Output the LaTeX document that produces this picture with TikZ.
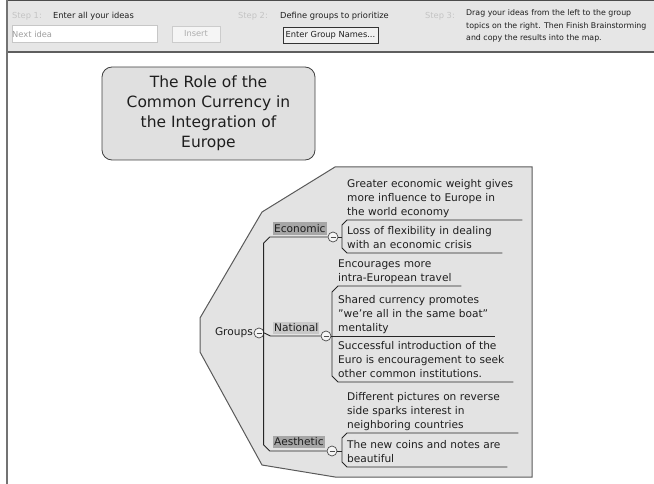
\documentclass[tikz,border=0pt]{standalone}
\usepackage{fontspec}
\setmainfont{DejaVu Sans}
\usetikzlibrary{positioning, calc}
\definecolor{barF}{HTML}{E6E6E6}
\definecolor{barS}{HTML}{5E5E5E}
\definecolor{mapF}{HTML}{E3E3E3}
\definecolor{mapS}{HTML}{5A5A5A}
\definecolor{stepGray}{HTML}{C4C4C4}
\definecolor{hlDark}{HTML}{A6A6A6}
\definecolor{hlLight}{HTML}{C8C8C8}
\definecolor{inkText}{HTML}{1E1E1E}
\tikzset{
  bartext/.style={font=\fontsize{8.3}{12.5}\selectfont, inner sep=0pt,
    anchor=west, text=inkText},
  steplbl/.style={bartext, text=stepGray},
  field/.style={draw=black!22, fill=white, minimum height=17pt,
    inner xsep=3pt, inner ysep=0pt, align=left, bartext, text=black!38},
  button/.style={draw=black!80, fill=black!6, minimum height=16pt,
    inner sep=0pt, bartext, anchor=center},
  topicbox/.style={rounded corners=10pt, draw=black!75, line width=0.8pt,
    fill=black!12, minimum width=213pt, minimum height=93pt, align=center,
    font=\fontsize{15.5}{20}\selectfont, text=inkText},
  idea/.style={anchor=south west, inner xsep=0pt, inner ysep=0pt,
    align=left, font=\fontsize{10.6}{14}\selectfont, text=inkText,
    execute at end node={\strut}},
  grouplbl/.style={anchor=south west, inner xsep=1pt, inner ysep=1.2pt,
    text height=8.4pt, text depth=2pt,
    font=\fontsize{10.6}{14}\selectfont, text=inkText, fill=hlDark},
  toggle/.style={circle, draw=black!70, fill=black!4, line width=0.7pt,
    minimum size=10pt, inner sep=0pt,
    path picture={\draw[line width=0.9pt]
      ([xshift=-2.5pt]path picture bounding box.center) --
      ([xshift=2.5pt]path picture bounding box.center);}},
  link/.style={draw=black!85, line width=0.9pt},
}

\begin{document}
\begin{tikzpicture}[x=1pt, y=-1pt]
  \useasboundingbox (0,0) rectangle (654,484);

  % ---- Toolbar ---------------------------------------------------------------
  \fill[barF] (7,0) rectangle (654,52);
  \draw[black!70, line width=0.8pt] (7,0.4) -- (654,0.4);
  \draw[barS, line width=2pt] (7,52) -- (654,52);
  \draw[black!55, line width=1.5pt] (7,0) -- (7,484);

  \node[steplbl] (s1)   at (12,16)  {Step 1:};
  \node[bartext] (s1t)  at (53,16)  {Enter all your ideas};
  \node[field, text width=145pt, anchor=west] (nextidea) at (12,34) {Next idea};
  \node[button, draw=black!20, fill=black!4, text=black!32,
    minimum width=48pt] (insert) at (196,34) {Insert};

  \node[steplbl] (s2)   at (238,16) {Step 2:};
  \node[bartext] (s2t)  at (280,16) {Define groups to prioritize};
  \node[button, minimum width=95pt] (names) at (330.5,35) {Enter Group Names...};

  \node[steplbl] (s3)   at (425,16) {Step 3:};
  \node[bartext, anchor=north west, align=left,
    font=\fontsize{7.85}{12.5}\selectfont] (s3t) at (466,9.5)
    {Drag your ideas from the left to the group\\
     topics on the right. Then Finish Brainstorming\\
     and copy the results into the map.};

  % ---- Central topic ---------------------------------------------------------
  \node[topicbox] (topic) at (208.5,113.5)
    {The Role of the\\Common Currency in\\the Integration of\\Europe};

  % ---- Group frame ------------------------------------------------------------
  \draw[mapS, fill=mapF, line width=1pt]
    (335,167) -- (532,167) -- (532,477) -- (335,477) -- (262,465)
    -- (200,352) -- (200,318) -- (262,212) -- cycle;

  % ---- Groups and branches ----------------------------------------------------
  \node[font=\fontsize{10.6}{14}\selectfont, text=inkText, anchor=east,
    inner sep=0pt] (groups) at (253,333) {Groups};
  \node[toggle] (gcirc) at (259,333) {};

  \node[grouplbl] (econ) at (273,235.5) {Economic};
  \node[grouplbl, fill=hlLight] (natl) at (273,334.5) {National};
  \node[grouplbl] (aest) at (273,448.5) {Aesthetic};

  \node[toggle] (ecirc) at (333,237) {};
  \node[toggle] (ncirc) at (326,336) {};
  \node[toggle] (acirc) at (332,451) {};

  % trunk from Economic down to Aesthetic, Groups joins at National
  \draw[link] (ecirc.west) -- ++(-58,0) -- ++(-6,6) -- ++(0,202)
    -- ++(6,6) -- (acirc.west);
  \draw[link] (gcirc.east) -- ++(6,3) -- (ncirc.west);

  % ---- Economic ideas -----------------------------------------------------------
  \node[idea, text width=175pt] (e1) at (347,220)
    {Greater economic weight gives\\more influence to Europe in\\the world economy};
  \node[idea, text width=155pt] (e2) at (347,253)
    {Loss of flexibility in dealing\\with an economic crisis};

  \draw[link] (e1.south east) -- (e1.south west) -- ++(-5,5)
    -- ($(e2.south west)+(-5,-5)$) -- (e2.south west) -- (e2.south east);
  \draw[link] (ecirc.east) -- ++(4,0);

  % ---- National ideas -----------------------------------------------------------
  \node[idea, text width=123pt] (n1) at (338,286)
    {Encourages more\\intra-European travel};
  \node[idea, text width=157pt] (n2) at (338,336)
    {Shared currency promotes\\\symbol{"22}we\symbol{"27}re all in the same boat\symbol{"22}\\mentality};
  \node[idea, text width=175pt] (n3) at (338,382)
    {Successful introduction of the\\Euro is encouragement to seek\\other common institutions.};

  \draw[link] (n1.south east) -- (n1.south west) -- ++(-6,6)
    -- ($(n3.south west)+(-6,-6)$) -- (n3.south west) -- (n3.south east);
  \draw[link] (ncirc.east) -- (n2.south east);

  % ---- Aesthetic ideas ----------------------------------------------------------
  \node[idea, text width=171pt] (a1) at (347,433)
    {Different pictures on reverse\\side sparks interest in\\neighboring countries};
  \node[idea, text width=160pt] (a2) at (347,467)
    {The new coins and notes are\\beautiful};

  \draw[link] (a1.south east) -- (a1.south west) -- ++(-5,5)
    -- ($(a2.south west)+(-5,-5)$) -- (a2.south west) -- (a2.south east);
  \draw[link] (acirc.east) -- ++(5,0);

\end{tikzpicture}
\end{document}
